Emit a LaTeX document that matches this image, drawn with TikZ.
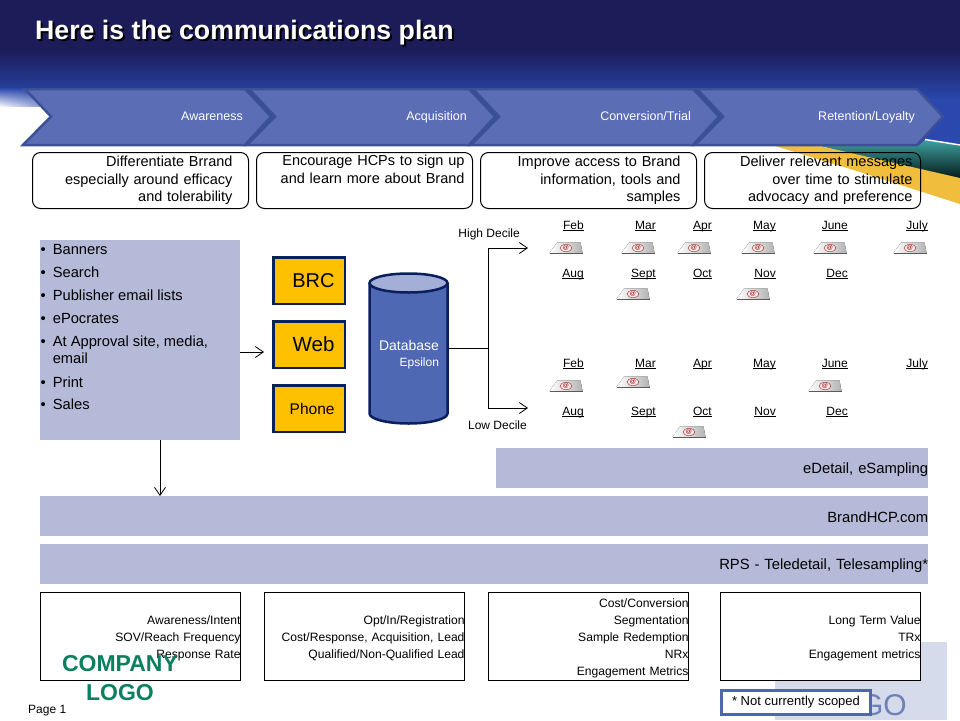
\documentclass[tikz,border=0pt]{standalone}
\usepackage{fontspec}
\setmainfont{Liberation Sans}
\usetikzlibrary{arrows.meta,fadings}
\definecolor{chevfill}{HTML}{5A6DB5}
\definecolor{chevline}{HTML}{3C5097}
\definecolor{barfill}{HTML}{B4BAD8}
\definecolor{navyline}{HTML}{0B1F5E}
\definecolor{boxgold}{HTML}{FFC000}
\definecolor{swoopgold}{HTML}{F0BD3C}
\definecolor{dbfill}{HTML}{4F68B4}
\definecolor{dbtop}{HTML}{A3AFD6}
\definecolor{logogreen}{HTML}{0B8060}
\definecolor{logopale}{HTML}{D6DBEC}
\definecolor{logoblue}{HTML}{6F82B8}
\definecolor{noteline}{HTML}{4F68AD}
\definecolor{skytop}{HTML}{1B1C58}
\definecolor{skyblue}{HTML}{2A48AE}
\tikzfading[name=fade right, left color=transparent!0, right color=transparent!100]
\newcommand{\monthtext}[1]{\underline{\smash{#1}}}
\newcommand{\shadowed}[1]{\rlap{\raisebox{-2pt}{\hspace{2pt}\textcolor{black}{#1}}}#1}
\newcommand{\mtop}{\rule{0pt}{13pt}}
\begin{document}
\begin{tikzpicture}[x=1pt,y=-1pt,
    phase node/.style={text=white, inner sep=0pt, font=\fontsize{12.5}{14}\selectfont, anchor=base east},
    goal node/.style={draw=black, line width=1pt, rounded corners=8pt, minimum width=216pt, minimum height=56pt, text width=184pt, inner sep=0pt, align=right, anchor=north west, font=\fontsize{14.5}{17.5}\selectfont},
    bar node/.style={fill=barfill, minimum height=40pt, inner sep=0pt, align=right, anchor=north west, font=\fontsize{14.8}{17}\selectfont},
    channel node/.style={draw=navyline, line width=2.5pt, fill=boxgold, minimum width=71.5pt, minimum height=46.5pt, inner sep=0pt, anchor=north west, text width=51pt, align=right},
    metric node/.style={draw=black, line width=1pt, fill=white, minimum width=200pt, minimum height=88pt, text width=200pt, inner sep=0pt, align=right, anchor=north west, font=\fontsize{12.1}{17}\selectfont},
    month node/.style={anchor=base east, inner sep=0pt, font=\fontsize{12}{14}\selectfont},
    small node/.style={inner sep=0pt, font=\fontsize{12}{14}\selectfont},
    list node/.style={anchor=base west, inner sep=0pt, font=\fontsize{14.7}{16}\selectfont},
    link/.style={line width=0.8pt, -{Straight Barb[length=8pt,width=11pt]}},
    mail/.pic={
      \fill[left color=white, right color=gray!60] (-16.5,5) -- (-9,-5.5) -- (14.5,-5.5) -- (16.5,5) -- cycle;
      \draw[gray!70!black, line width=1pt] (-16.5,5.5) -- (16.5,5.5);
      \draw[red!55!black, fill=red!10, line width=0.3pt] (0,0) ellipse (6pt and 3.6pt);
      \node[inner sep=0pt, text=red!55!black, font=\fontsize{6}{6}\selectfont] {@};
    }]
  \useasboundingbox (0,0) rectangle (960,720);

  % background
  \fill[white] (0,0) rectangle (960,720);
  \fill[skytop] (0,0) rectangle (960,50);
  \shade[top color=skytop, bottom color=skyblue] (0,49) rectangle (960,100);
  \fill[skyblue] (0,99) rectangle (960,146);
  \shade[top color=skyblue, bottom color=white, path fading=fade right] (0,88) rectangle (80,107);
  \fill[white] (0,107) rectangle (60,146.5);
  \shade[top color=teal!75!white, bottom color=black!85!teal] (820,146) -- (918,146) -- (925,140) -- (960,146) -- (960,180) -- cycle;
  \draw[white, line width=1.5pt] (925,139.5) -- (960,145);
  \fill[swoopgold] (775,146) -- (860,172) -- (960,204) -- (960,178) -- (890,162) -- (820,146) -- cycle;
  \fill[logopale] (775,642) rectangle (947,720);
  \node[anchor=east, inner sep=0pt, text=logoblue, font=\fontsize{30}{30}\selectfont] (logotail) at (907,705) {GO};

  % title
  \node[anchor=west, inner sep=0pt, text=white, font=\bfseries\fontsize{26.7}{27}\selectfont] (title) at (35,34) {\shadowed{Here is the communications plan}};

  % chevrons
  \foreach \x in {672,448,224,0}
    \draw[chevline, line width=2.5pt, fill=chevfill, xshift=\x pt] (25,89) -- (245,89) -- (271,116.5) -- (245,145) -- (23,145) -- (51,116.5) -- cycle;
  \node[phase node] (awareness) at (243,120.5) {Awareness};
  \node[phase node] (acquisition) at (467,120.5) {Acquisition};
  \node[phase node] (conversion) at (691,120.5) {Conversion/Trial};
  \node[phase node] (retention) at (915,120.5) {Retention/Loyalty};

  % goals
  \node[goal node] (goal1) at (32,152) {Differentiate Brrand\\especially around efficacy\\and tolerability};
  \node[goal node, text width=200pt] (goal2) at (256,152) {Encourage HCPs to sign up\\and learn more about Brand\\\strut};
  \node[goal node] (goal3) at (480,152) {Improve access to Brand\\information, tools and\\samples};
  \node[goal node, text width=200pt] (goal4) at (704,152) {Deliver relevant messages\\over time to stimulate\\advocacy and preference};

  % media list
  \node[fill=barfill, minimum width=200pt, minimum height=200pt, inner sep=0pt, anchor=north west] (panel) at (40,240) {};
  \foreach \y/\entry in {249/Banners,272/Search,295/Publisher email lists,318/ePocrates,341/{At Approval site, media,},382/Print,404/Sales}
    \node[list node] (item\y) at (40.5,\y+5) {•\hspace{7pt}\entry};
  \node[list node] (itemtail) at (52.6,363) {email};

  % channels
  \node[channel node, font=\fontsize{20}{20}\selectfont] (brc) at (272,256) {BRC};
  \node[channel node, font=\fontsize{20.5}{20}\selectfont] (web) at (272,320) {Web};
  \node[channel node, font=\fontsize{15.5}{16}\selectfont] (phone) at (272,384) {Phone};

  % database
  \fill[dbfill] (369.5,283) -- (369.5,413.5) arc (180:0:39 and 10) -- (447.5,283) -- cycle;
  \draw[navyline, line width=2.5pt] (369.5,283) -- (369.5,413.5) arc (180:0:39 and 10) -- (447.5,283);
  \draw[navyline, line width=2.5pt, fill=dbtop] (408.5,283) ellipse (39 and 9.5);
  \node[minimum width=78pt, text width=61pt, inner sep=0pt, align=right, text=white, font=\fontsize{14}{16}\selectfont] (db) at (408.5,355) {Database\\{\fontsize{12}{14}\selectfont Epsilon}};

  % links
  \coordinate (fork) at (488,348);
  \coordinate (hightip) at (528,248);
  \coordinate (lowtip) at (528,408);
  \coordinate (droptip) at (160,496);
  \coordinate (webtip) at (264,352);
  \draw[line width=0.8pt] (db.east |- fork) -- (fork);
  \draw[link] (fork) |- (hightip);
  \draw[link] (fork) |- (lowtip);
  \draw[link] (panel.east |- webtip) -- (webtip);
  \draw[link] (panel.south -| droptip) -- (droptip);
  \node[small node, anchor=base east] (high) at (520,237) {High Decile};
  \node[small node, anchor=base east] (low) at (527,429) {Low Decile};

  % months
  \foreach \r/\y in {a/229,c/367}
    \foreach \x/\m in {584/Feb,656/Mar,712/Apr,776/May,848/June,928/July}
      \node[month node] (\r\m) at (\x,\y) {\monthtext{\m}};
  \foreach \r/\y in {b/277,d/415}
    \foreach \x/\m in {584/Aug,656/Sept,712/Oct,776/Nov,848/Dec}
      \node[month node] (\r\m) at (\x,\y) {\monthtext{\m}};

  % mail icons
  \foreach \x/\y in {566/248,638/248,694/248,758/248,830/248,910/248,633/294,753/294,566/386,633/382,825/386,689/432}
    \pic at (\x,\y) {mail};

  % bars
  \node[bar node, minimum width=432pt, text width=432pt] (edetail) at (496,448) {\rule{0pt}{13pt}eDetail, eSampling};
  \node[bar node, minimum width=888pt, text width=888pt] (brandhcp) at (40,496) {\rule{0pt}{13pt}BrandHCP.com};
  \node[bar node, minimum width=888pt, text width=888pt] (rps) at (40,544) {\rule{0pt}{13pt}RPS - Teledetail, Telesampling*};

  % metrics
  \node[metric node] (metric1) at (40,592) {\mtop Awareness/Intent\\SOV/Reach Frequency\\Response Rate};
  \node[metric node] (metric2) at (264,592) {\mtop Opt/In/Registration\\Cost/Response, Acquisition, Lead\\Qualified/Non-Qualified Lead};
  \node[metric node] (metric3) at (488,592) {\mtop Cost/Conversion\\Segmentation\\Sample Redemption\\NRx\\Engagement Metrics};
  \node[metric node] (metric4) at (720,592) {\mtop Long Term Value\\TRx\\Engagement metrics};

  % footer
  \node[inner sep=0pt, align=center, text=logogreen, font=\bfseries\fontsize{23}{29}\selectfont] (logo) at (120,678.5) {COMPANY\\LOGO};
  \node[small node, anchor=base west] (page) at (28,713) {Page 1};
  \node[draw=noteline, line width=3pt, fill=white, minimum width=149pt, minimum height=24pt, inner sep=0pt, font=\fontsize{13}{14}\selectfont] (note) at (796,702.5) {* Not currently scoped};
\end{tikzpicture}
\end{document}
